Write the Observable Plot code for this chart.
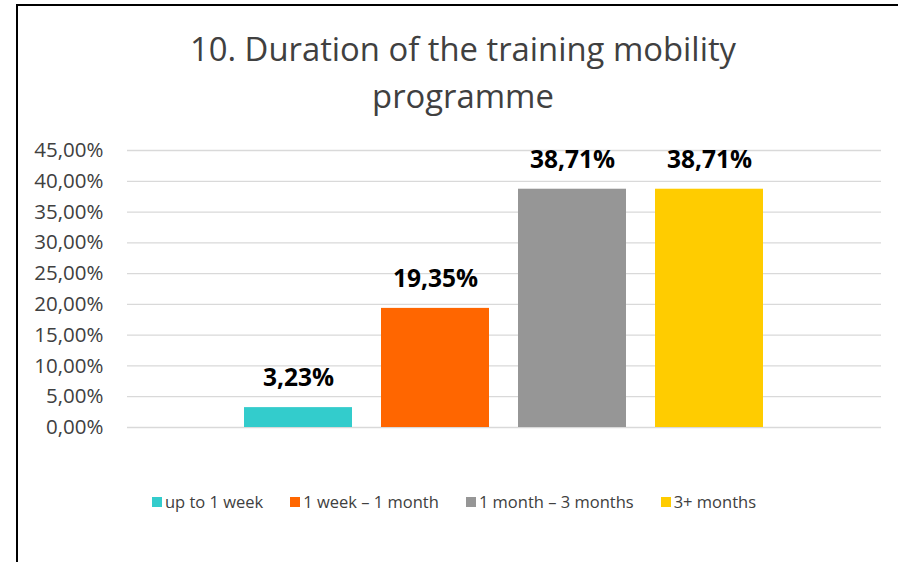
<!DOCTYPE html>
<html>
<head>
<meta charset="utf-8">
<script src="https://cdn.jsdelivr.net/npm/d3@7"></script>
<script src="https://cdn.jsdelivr.net/npm/@observablehq/plot@0.6"></script>
<style>
  html, body { margin: 0; padding: 0; background: #fff; width: 898px; height: 562px; overflow: hidden; }
  body { position: relative; font-family: "Open Sans", Lato, sans-serif; }
  #frame { position: absolute; left: 16px; top: 4px; width: 900px; height: 600px; border-left: 2px solid #000; border-top: 2px solid #000; }
  #title { position: absolute; left: 0; width: 926px; top: 25px; text-align: center; font-size: 32.8px; line-height: 47px; color: #404040; }
  #chart { position: absolute; left: 0; top: 130px; }
  #legend { position: absolute; left: 0; width: 908px; top: 490px; display: flex; justify-content: center; gap: 27px; font-size: 16.5px; color: #404040; }
  .item { display: flex; align-items: center; gap: 3px; }
  .sw { width: 10px; height: 10px; display: inline-block; }
</style>
</head>
<body>
<div id="frame"></div>
<div id="title">10. Duration of the training mobility<br>programme</div>
<div id="chart"></div>
<div id="legend"></div>
<script>
const categories = ["up to 1 week", "1 week – 1 month", "1 month – 3 months", "3+ months"];
const values = [3.23, 19.35, 38.71, 38.71];
const colors = ["#33CCCC", "#FF6600", "#969696", "#FFCC00"];
const yTicks = [0, 5, 10, 15, 20, 25, 30, 35, 40, 45];

const data = categories.map((c, i) => ({category: c, value: values[i]}));
const fmt = v => v.toFixed(2).replace(".", ",") + "%";

const chart = Plot.plot({
  width: 898,
  height: 310,
  marginTop: 20,
  marginBottom: 13,
  marginLeft: 127,
  marginRight: 17,
  style: {fontFamily: "'Open Sans', Lato, sans-serif", background: "transparent"},
  x: {domain: categories, paddingInner: 0.21, paddingOuter: 0.855, axis: null},
  y: {domain: [0, 45], axis: null},
  color: {domain: categories, range: colors},
  marks: [
    Plot.ruleY(yTicks, {stroke: "#d9d9d9", strokeWidth: 1.3}),
    Plot.axisY(yTicks, {tickSize: 0, tickPadding: 24, tickFormat: fmt, fontSize: 20.5, fill: "#404040", label: null}),
    Plot.barY(data, {x: "category", y: "value", fill: "category"}),
    Plot.text(data, {x: "category", y: "value", text: d => fmt(d.value), dy: -29, fontSize: 24.5, fontWeight: "bold", fill: "#000"})
  ]
});
document.getElementById("chart").appendChild(chart);

const legend = document.getElementById("legend");
categories.forEach((c, i) => {
  const item = document.createElement("div");
  item.className = "item";
  const sw = document.createElement("span");
  sw.className = "sw";
  sw.style.background = colors[i];
  const t = document.createElement("span");
  t.textContent = c;
  item.appendChild(sw);
  item.appendChild(t);
  legend.appendChild(item);
});
</script>
</body>
</html>
